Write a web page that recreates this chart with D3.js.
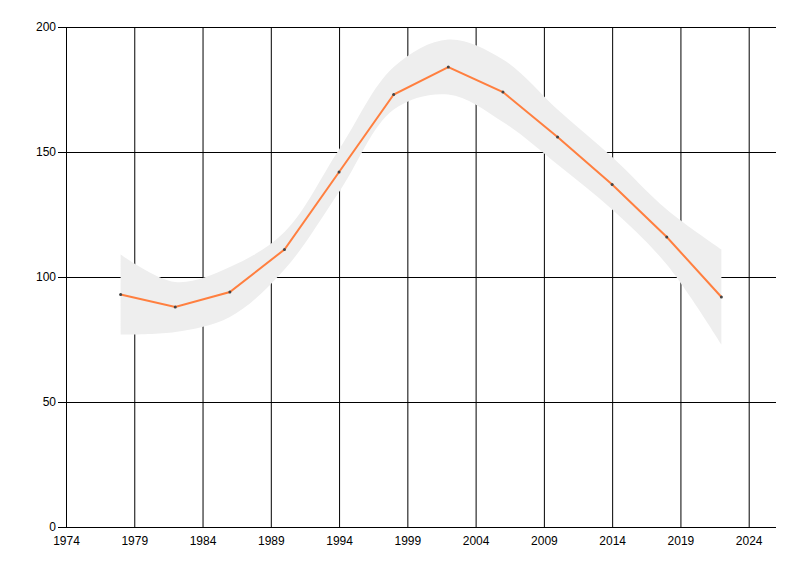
<!DOCTYPE html>
<html>
<head>
<meta charset="utf-8">
<script src="https://cdn.jsdelivr.net/npm/d3@7"></script>
<style>
  body { margin: 0; background: #fff; }
  text { font-family: "Liberation Sans", Arial, sans-serif; font-size: 12px; fill: #000; }
</style>
</head>
<body>
<svg width="800" height="576"></svg>
<script>
// values
var years  = [1978, 1982, 1986, 1990, 1994, 1998, 2002, 2006, 2010, 2014, 2018, 2022];
var values = [93, 88, 94, 111, 142, 173, 184, 174, 156, 137, 116, 92];
var upper  = [109, 98, 104, 118, 151, 184, 195, 187, 167, 148, 127, 111];
var lower  = [77, 78, 84, 103, 134, 167, 173, 162, 145, 127, 105, 73];
var xTicks = [1974, 1979, 1984, 1989, 1994, 1999, 2004, 2009, 2014, 2019, 2024];
var yTicks = [0, 50, 100, 150, 200];

var svg = d3.select("svg");
var plotL = 66, plotR = 776, plotT = 27, plotB = 527;

var x = d3.scaleLinear().domain([1974, 2026]).range([plotL, plotR]);
var y = d3.scaleLinear().domain([0, 200]).range([plotB, plotT]);

// grid
svg.append("g").selectAll("line")
  .data(xTicks).enter().append("line")
    .attr("x1", d => x(d) + 0.5).attr("x2", d => x(d) + 0.5)
    .attr("y1", plotT).attr("y2", plotB)
    .style("stroke", "#000").style("stroke-width", 1)

svg.append("g").selectAll("line")
  .data(yTicks).enter().append("line")
    .attr("x1", plotL - 8).attr("x2", plotR)
    .attr("y1", d => y(d) + 0.5).attr("y2", d => y(d) + 0.5)
    .style("stroke", "#000").style("stroke-width", 1)

// band
var rows = years.map((yr, i) => ({yr: yr, v: values[i], hi: upper[i], lo: lower[i]}));

var area = d3.area()
  .x(d => x(d.yr))
  .y0(d => y(d.lo))
  .y1(d => y(d.hi))
  .curve(d3.curveCatmullRom)

svg.append("path")
  .datum(rows)
  .attr("d", area)
  .style("fill", "#eeeeee")

// line
var line = d3.line()
  .x(d => x(d.yr))
  .y(d => y(d.v))

svg.append("path")
  .datum(rows)
  .attr("d", line)
  .style("fill", "none")
  .style("stroke", "#ff7f3f")
  .style("stroke-width", 2)

svg.append("g").selectAll("circle")
  .data(rows).enter().append("circle")
    .attr("cx", d => x(d.yr))
    .attr("cy", d => y(d.v))
    .attr("r", 1.5)
    .style("fill", "#444")

// left axis line
svg.append("line")
  .attr("x1", plotL + 0.5).attr("x2", plotL + 0.5)
  .attr("y1", plotT).attr("y2", plotB)
  .style("stroke", "#000")

// labels
svg.append("g").selectAll("text")
  .data(yTicks).enter().append("text")
    .attr("x", plotL - 10)
    .attr("y", d => y(d) + 4)
    .attr("text-anchor", "end")
    .text(d => d)

svg.append("g").selectAll("text")
  .data(xTicks).enter().append("text")
    .attr("x", d => x(d) + 0.5)
    .attr("y", plotB + 18)
    .attr("text-anchor", "middle")
    .text(d => d)
</script>
</body>
</html>
